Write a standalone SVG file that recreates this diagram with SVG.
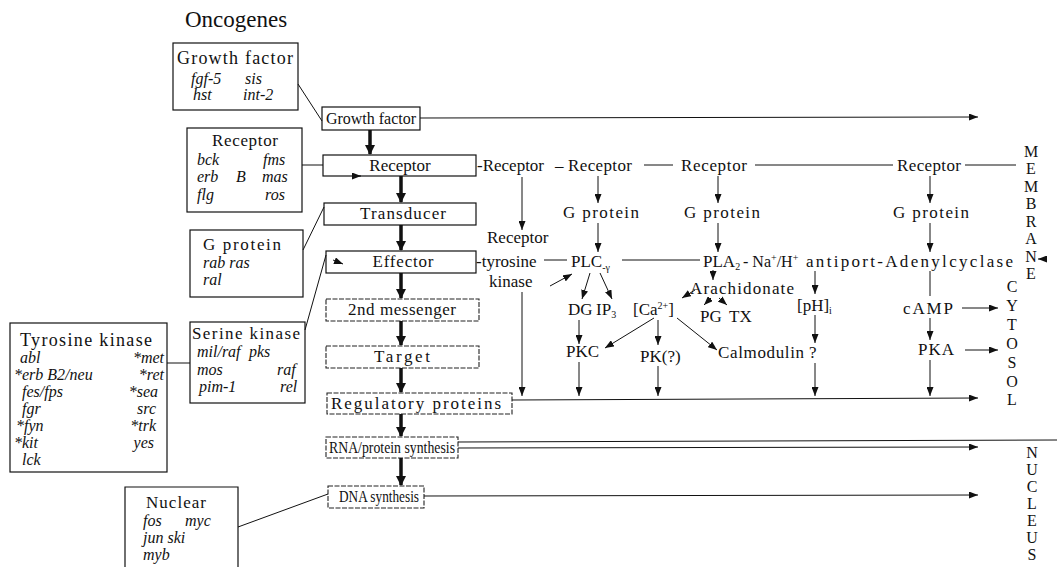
<svg xmlns="http://www.w3.org/2000/svg" width="1057" height="567" viewBox="0 0 1057 567">
<defs>
<marker id="ah" markerUnits="userSpaceOnUse" markerWidth="9" markerHeight="7" refX="9" refY="3.5" orient="auto"><path d="M0,0 L9,3.5 L0,7 z" fill="#111"/></marker>
<marker id="big" markerUnits="userSpaceOnUse" markerWidth="10" markerHeight="10" refX="9" refY="5" orient="auto"><path d="M0,0 L10,5 L0,10 z" fill="#111"/></marker>
</defs>
<style>
text{font-family:"Liberation Serif","Times New Roman",serif;font-size:17px;fill:#111}
text.i{font-style:italic;font-size:16px}
text.t{font-style:italic;font-size:16px}
.box{fill:none;stroke:#111;stroke-width:1.2}
.dbox{fill:none;stroke:#222;stroke-width:1.1;stroke-dasharray:5 1.5}
.ln{fill:none;stroke:#111;stroke-width:1}
.ar{fill:none;stroke:#111;stroke-width:1;marker-end:url(#ah)}
.th{fill:none;stroke:#111;stroke-width:3.5;marker-end:url(#big)}
.c{text-anchor:middle}
.e{text-anchor:end}
text.v{text-anchor:middle;font-size:16px}
tspan.s{font-size:10px}
</style>
<rect width="1057" height="567" fill="#fff"/>
<text x="185" y="27" style="font-size:23px">Oncogenes</text>

<!-- oncogene boxes -->
<g id="onc-growth-factor">
<rect class="box" x="173" y="43" width="125" height="67"/>
<text x="177" y="64" style="font-size:18px" textLength="116">Growth factor</text>
<text class="i" x="191" y="84">fgf-5</text><text class="i" x="245" y="84">sis</text>
<text class="i" x="193" y="100">hst</text><text class="i" x="243" y="100">int-2</text>
</g>
<g id="onc-receptor">
<rect class="box" x="187" y="128" width="115" height="84"/>
<text x="212" y="146" textLength="66">Receptor</text>
<text class="i" x="197" y="165">bck</text><text class="i" x="263" y="165">fms</text>
<text class="i" x="197" y="182">erb</text><text class="i" x="236" y="182">B</text><text class="i" x="262" y="182">mas</text>
<text class="i" x="197" y="200">flg</text><text class="i" x="265" y="200">ros</text>
</g>
<g id="onc-gprotein">
<rect class="box" x="190" y="230" width="113" height="67"/>
<text x="203" y="250" textLength="78">G protein</text>
<text class="i" x="203" y="268">rab ras</text>
<text class="i" x="203" y="285">ral</text>
</g>
<g id="onc-serine">
<rect class="box" x="190" y="322" width="115" height="81"/>
<text x="192" y="339" textLength="108">Serine kinase</text>
<text class="i" x="197" y="357">mil/raf</text><text class="i" x="249" y="357">pks</text>
<text class="i" x="197" y="375">mos</text><text class="i" x="277" y="375">raf</text>
<text class="i" x="199" y="392">pim-1</text><text class="i" x="280" y="392">rel</text>
</g>
<g id="onc-tyrosine">
<rect class="box" x="10" y="323" width="157" height="149"/>
<text x="20" y="346" style="font-size:18px" textLength="132">Tyrosine kinase</text>
<text class="t" x="20" y="363">abl</text><text class="t e" x="164" y="363">*met</text>
<text class="t" x="14" y="380">*erb B2/neu</text><text class="t e" x="164" y="380">*ret</text>
<text class="t" x="22" y="397">fes/fps</text><text class="t e" x="158" y="397">*sea</text>
<text class="t" x="22" y="414">fgr</text><text class="t e" x="156" y="414">src</text>
<text class="t" x="16" y="431">*fyn</text><text class="t e" x="156" y="431">*trk</text>
<text class="t" x="14" y="448">*kit</text><text class="t e" x="154" y="448">yes</text>
<text class="t" x="22" y="465">lck</text>
</g>
<g id="onc-nuclear">
<path class="box" d="M125,567 V487 H238 V567"/>
<text x="146" y="508" textLength="60">Nuclear</text>
<text class="i" x="143" y="526">fos</text><text class="i" x="185" y="526">myc</text>
<text class="i" x="143" y="543">jun ski</text>
<text class="i" x="143" y="560">myb</text>
</g>

<!-- central column -->
<g id="c-growth-factor"><rect class="box" x="322" y="107" width="98" height="23"/><text class="c" x="371" y="124" style="font-size:16px">Growth factor</text></g>
<g id="c-receptor"><rect class="box" x="323" y="155" width="153" height="21"/><text class="c" x="400" y="171">Receptor</text></g>
<g id="c-transducer"><rect class="box" x="324" y="203" width="152" height="22"/><text class="c" x="403" y="219" textLength="86">Transducer</text></g>
<g id="c-effector"><rect class="box" x="326" y="251" width="150" height="22"/><text class="c" x="403" y="267" textLength="61">Effector</text></g>
<g id="c-second"><rect class="dbox" x="326" y="299" width="153" height="22"/><text class="c" x="402" y="315" textLength="108">2nd messenger</text></g>
<g id="c-target"><rect class="dbox" x="326" y="346" width="153" height="22"/><text class="c" x="402" y="362" textLength="56">Target</text></g>
<g id="c-regulatory"><rect class="dbox" x="327" y="393" width="185" height="21"/><text x="331" y="409" textLength="170">Regulatory proteins</text></g>
<g id="c-rna"><rect class="dbox" x="326" y="437" width="132" height="21"/><text x="329" y="453" textLength="126" lengthAdjust="spacingAndGlyphs">RNA/protein synthesis</text></g>
<g id="c-dna"><rect class="dbox" x="328" y="486" width="96" height="22"/><text x="339" y="502" textLength="80" lengthAdjust="spacingAndGlyphs">DNA synthesis</text></g>

<!-- right side nodes -->
<g id="r-receptors">
<text x="477" y="171">-Receptor</text>
<text x="555" y="171">–</text>
<text x="568" y="171" textLength="64">Receptor</text>
<text x="681" y="171" textLength="66">Receptor</text>
<text x="897" y="171" textLength="64">Receptor</text>
</g>
<g id="r-gproteins">
<text x="563" y="218" textLength="76">G protein</text>
<text x="684" y="218" textLength="76">G protein</text>
<text x="893" y="218" textLength="76">G protein</text>
</g>
<g id="r-rtk">
<text x="487" y="243">Receptor</text>
<text x="476" y="267">-tyrosine</text>
<text x="489" y="287">kinase</text>
</g>
<g id="r-plc"><text x="571" y="267">PLC<tspan class="s" dy="4">-γ</tspan></text></g>
<g id="r-pla2"><text x="703" y="267">PLA<tspan class="s" dy="3">2</tspan></text></g>
<g id="r-antiport"><text x="743" y="267" style="font-size:16px">- Na<tspan class="s" dy="-6">+</tspan><tspan dy="6">/H</tspan><tspan class="s" dy="-6">+</tspan></text></g>
<g id="r-adenyl"><text x="806" y="267" textLength="207">antiport-Adenylcyclase</text></g>
<g id="r-arach"><text x="690" y="294" textLength="104">Arachidonate</text></g>
<g id="r-dg"><text x="568" y="315">DG</text></g>
<g id="r-ip3"><text x="596" y="315">IP<tspan class="s" dy="3">3</tspan></text></g>
<g id="r-ca"><text x="633" y="315">[Ca<tspan class="s" dy="-6">2+</tspan><tspan dy="6">]</tspan></text></g>
<g id="r-pg"><text x="700" y="322">PG</text></g>
<g id="r-tx"><text x="729" y="322">TX</text></g>
<g id="r-ph"><text x="797" y="311">[pH]<tspan class="s" dy="3">i</tspan></text></g>
<g id="r-camp"><text x="903" y="314" textLength="50">cAMP</text></g>
<g id="r-pkc"><text x="566" y="357">PKC</text></g>
<g id="r-pk"><text x="640" y="362">PK(?)</text></g>
<g id="r-calm"><text x="718" y="358" textLength="86">Calmodulin</text><text x="809" y="358">?</text></g>
<g id="r-pka"><text x="918" y="355" textLength="36">PKA</text></g>

<g id="labels">
<text class="v" x="1031" y="157">M</text><text class="v" x="1031" y="174">E</text><text class="v" x="1031" y="192">M</text><text class="v" x="1031" y="209">B</text><text class="v" x="1031" y="227">R</text><text class="v" x="1031" y="244">A</text><text class="v" x="1031" y="262">N</text><text class="v" x="1031" y="279">E</text>
<text class="v" x="1012" y="292">C</text><text class="v" x="1012" y="311">Y</text><text class="v" x="1012" y="330">T</text><text class="v" x="1012" y="349">O</text><text class="v" x="1012" y="368">S</text><text class="v" x="1012" y="387">O</text><text class="v" x="1012" y="405">L</text>
<text class="v" x="1032" y="458">N</text><text class="v" x="1032" y="475">U</text><text class="v" x="1032" y="492">C</text><text class="v" x="1032" y="509">L</text><text class="v" x="1032" y="526">E</text><text class="v" x="1032" y="543">U</text><text class="v" x="1032" y="560">S</text>
</g>

<g id="connectors">
<path class="ln" d="M298,84 L322,121"/>
<path class="ln" d="M302,165 H323"/>
<path class="ln" d="M303,250 L324,207"/>
<path class="ln" d="M305,330 L326,255"/>
<path class="ln" d="M167,363 H190"/>
<path class="ln" d="M238,527 L328,494"/>
<path class="ar" d="M333,260 L343,264"/>
<path class="ar" d="M352,176 L361,176"/>
<path class="th" d="M370,130 V154"/>
<path class="th" d="M401,176 V202"/>
<path class="th" d="M401,225 V250"/>
<path class="th" d="M401,273 V298"/>
<path class="th" d="M401,321 V345"/>
<path class="th" d="M401,368 V392"/>
<path class="th" d="M401,414 V436"/>
<path class="th" d="M401,458 V485"/>
<path class="ar" d="M420,118 L978,117"/>
<path class="ar" d="M512,400 L978,398"/>
<path class="ln" d="M458,442 L1057,440"/>
<path class="ar" d="M458,448 L978,447"/>
<path class="ar" d="M424,496 L978,495"/>
<path class="ln" d="M644,165 H673"/>
<path class="ln" d="M755,165 H893"/>
<path class="ln" d="M965,165 H1016"/>
<path class="ln" d="M544,260 H567 M622,260 H700"/>
<path class="ar" d="M522,177 V230"/>
<path class="ar" d="M522,292 V396"/>
<path class="ar" d="M598,176 V203"/>
<path class="ar" d="M598,223 V252"/>
<path class="ar" d="M718,176 V203"/>
<path class="ar" d="M718,223 V252"/>
<path class="ar" d="M930,176 V203"/>
<path class="ar" d="M930,223 V252"/>
<path class="ar" d="M550,286 L572,274"/>
<path class="ar" d="M590,273 L582,299"/>
<path class="ar" d="M600,273 L612,299"/>
<path class="ar" d="M713,270 V280"/>
<path class="ar" d="M695,290 L682,298"/>
<path class="ar" d="M711,298 L704,305"/>
<path class="ar" d="M719,298 L727,305"/>
<path class="ar" d="M815,271 V294"/>
<path class="ar" d="M815,315 V343"/>
<path class="ar" d="M815,363 V396"/>
<path class="ln" d="M930,271 V296"/>
<path class="ar" d="M930,318 V340"/>
<path class="ar" d="M930,360 V396"/>
<path class="ar" d="M962,308 H998"/>
<path class="ar" d="M965,350 H998"/>
<path class="ar" d="M1047,259 L1038,259"/>
<path class="ar" d="M579,320 V344"/>
<path class="ar" d="M654,318 L605,348"/>
<path class="ar" d="M658,320 V345"/>
<path class="ar" d="M677,318 L717,350"/>
<path class="ar" d="M579,362 V396"/>
<path class="ar" d="M658,366 V396"/>
</g>
</svg>
